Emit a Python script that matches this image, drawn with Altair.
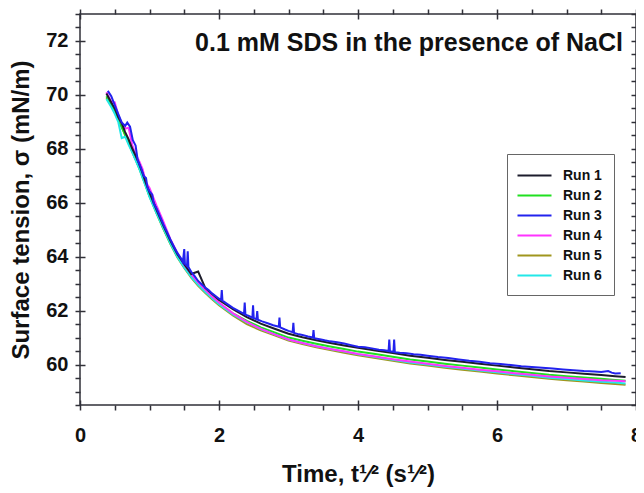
import altair as alt
import pandas as pd

# ---------------- data ----------------
run_names = ["Run 1", "Run 2", "Run 3", "Run 4", "Run 5", "Run 6"]
run_colors = ["#1c1c2c", "#20e020", "#2222ee", "#ff33ff", "#a0961e", "#22e8e8"]

# shared sqrt(time) grid for runs 1, 2, 4, 5, 6
t_grid = [0.38, 0.45, 0.50, 0.55, 0.60, 0.65, 0.70, 0.75, 0.80, 0.85,
          0.90, 0.95, 1.00, 1.10, 1.20, 1.30, 1.40, 1.50, 1.60, 1.70,
          1.80, 1.90, 2.00, 2.20, 2.40, 2.60, 2.80, 3.00, 3.20, 3.40,
          3.60, 3.80, 4.00, 4.25, 4.50, 4.75, 5.00, 5.25, 5.50, 5.75,
          6.00, 6.25, 6.50, 6.75, 7.00, 7.25, 7.50, 7.70, 7.85]

run1 = [70.05, 69.72, 69.50, 69.18, 68.95, 68.62, 68.35, 68.02, 67.75, 67.45,
        67.10, 66.72, 66.38, 65.75, 65.15, 64.60, 64.10, 63.72, 63.36, 63.45,
        62.85, 62.62, 62.40, 62.05, 61.76, 61.52, 61.33, 61.14, 61.01, 60.90,
        60.80, 60.71, 60.62, 60.52, 60.43, 60.33, 60.25, 60.17, 60.10, 60.03,
        59.96, 59.89, 59.83, 59.76, 59.71, 59.66, 59.61, 59.57, 59.54]

run2 = [69.95, 69.62, 69.38, 69.12, 68.80, 68.52, 68.22, 67.92, 67.62, 67.30,
        66.98, 66.62, 66.25, 65.65, 65.05, 64.50, 64.02, 63.62, 63.28, 62.98,
        62.72, 62.48, 62.26, 61.90, 61.62, 61.38, 61.19, 61.00, 60.88, 60.77,
        60.67, 60.58, 60.48, 60.39, 60.29, 60.19, 60.11, 60.03, 59.96, 59.89,
        59.82, 59.75, 59.69, 59.62, 59.57, 59.52, 59.47, 59.43, 59.40]

run4 = [70.10, 69.75, 69.72, 69.25, 68.95, 68.75, 68.78, 68.15, 67.80, 67.55,
        67.25, 66.75, 66.55, 65.90, 65.30, 64.65, 64.15, 63.70, 63.35, 63.05,
        62.78, 62.52, 62.30, 61.90, 61.58, 61.32, 61.12, 60.93, 60.80, 60.68,
        60.58, 60.49, 60.39, 60.30, 60.20, 60.11, 60.03, 59.95, 59.88, 59.81,
        59.75, 59.68, 59.62, 59.56, 59.51, 59.46, 59.42, 59.40, 59.38]

run5 = [69.90, 69.60, 69.35, 69.10, 68.82, 68.50, 68.22, 67.90, 67.60, 67.30,
        66.95, 66.60, 66.25, 65.62, 65.02, 64.48, 63.98, 63.58, 63.22, 62.92,
        62.66, 62.42, 62.20, 61.82, 61.50, 61.27, 61.08, 60.89, 60.76, 60.64,
        60.54, 60.44, 60.34, 60.24, 60.14, 60.04, 59.96, 59.88, 59.81, 59.74,
        59.67, 59.60, 59.54, 59.47, 59.42, 59.37, 59.32, 59.28, 59.25]

run6 = [69.85, 69.55, 69.30, 69.00, 68.40, 68.45, 68.15, 67.88, 67.58, 67.28,
        66.92, 66.58, 66.22, 65.62, 65.05, 64.50, 64.00, 63.60, 63.25, 62.96,
        62.70, 62.46, 62.24, 61.86, 61.56, 61.32, 61.12, 60.93, 60.80, 60.68,
        60.58, 60.48, 60.38, 60.28, 60.18, 60.08, 60.00, 59.92, 59.85, 59.78,
        59.71, 59.64, 59.58, 59.51, 59.46, 59.41, 59.36, 59.33, 59.30]

# run 3 has its own, denser grid (it carries the spikes)
run3_t = [0.40, 0.45, 0.50, 0.55, 0.60, 0.65, 0.68, 0.72, 0.76, 0.80,
          0.83, 0.88, 0.92, 0.95, 0.97, 1.00, 1.04, 1.06, 1.10, 1.15,
          1.20, 1.25, 1.30, 1.35, 1.40, 1.45, 1.48, 1.50, 1.51, 1.54,
          1.55, 1.56, 1.60, 1.65, 1.70, 1.75, 1.80, 1.85, 1.90, 1.95,
          2.00, 2.03, 2.04, 2.05, 2.10, 2.20, 2.30, 2.36, 2.37, 2.38,
          2.43, 2.48, 2.49, 2.50, 2.54, 2.55, 2.56, 2.62, 2.70, 2.78,
          2.86, 2.87, 2.88, 2.95, 3.00, 3.06, 3.07, 3.08, 3.15, 3.20,
          3.28, 3.35, 3.36, 3.37, 3.45, 3.52, 3.60, 3.70, 3.80, 3.90,
          4.00, 4.10, 4.20, 4.30, 4.38, 4.44, 4.45, 4.46, 4.51, 4.52,
          4.53, 4.60, 4.70, 4.80, 4.90, 5.00, 5.15, 5.30, 5.45, 5.60,
          5.75, 5.90, 6.05, 6.20, 6.35, 6.50, 6.65, 6.80, 6.95, 7.10,
          7.25, 7.40, 7.50, 7.60, 7.65, 7.70, 7.78]
run3 = [70.15, 69.95, 69.62, 69.30, 68.98, 68.85, 68.97, 68.82, 68.32, 68.12,
        67.58, 67.28, 66.98, 66.92, 66.58, 66.42, 66.30, 65.98, 65.80, 65.50,
        65.20, 64.92, 64.64, 64.38, 64.14, 63.95, 63.80, 64.28, 63.74, 63.66,
        64.20, 63.62, 63.44, 63.28, 63.10, 62.98, 62.86, 62.76, 62.64, 62.54,
        62.44, 62.40, 62.76, 62.37, 62.28, 62.10, 61.96, 61.88, 62.30, 61.85,
        61.80, 61.74, 62.20, 61.72, 61.68, 61.98, 61.66, 61.60, 61.53, 61.46,
        61.40, 61.74, 61.38, 61.30, 61.25, 61.20, 61.55, 61.17, 61.12, 61.10,
        61.04, 61.00, 61.28, 60.98, 60.94, 60.90, 60.86, 60.83, 60.78, 60.72,
        60.66, 60.64, 60.60, 60.55, 60.53, 60.50, 60.93, 60.49, 60.47, 60.93,
        60.46, 60.44, 60.42, 60.38, 60.36, 60.33, 60.28, 60.24, 60.19, 60.14,
        60.10, 60.05, 60.02, 59.98, 59.94, 59.91, 59.88, 59.85, 59.82, 59.79,
        59.76, 59.74, 59.72, 59.76, 59.70, 59.67, 59.68]

x_ticks = [0, 0.5, 1, 1.5, 2, 2.5, 3, 3.5, 4, 4.5, 5, 5.5, 6, 6.5, 7, 7.5, 8]
y_ticks = [58.5, 59, 59.5, 60, 60.5, 61, 61.5, 62, 62.5, 63, 63.5, 64, 64.5,
           65, 65.5, 66, 66.5, 67, 67.5, 68, 68.5, 69, 69.5, 70, 70.5, 71,
           71.5, 72, 72.5, 73]

title_text = "0.1 mM SDS in the presence of NaCl"
x_title = "Time, t¹⁄² (s¹⁄²)"
y_title = "Surface tension, σ (mN/m)"

# ---------------- table ----------------
series = {
    "Run 5": (t_grid, run5),
    "Run 2": (t_grid, run2),
    "Run 6": (t_grid, run6),
    "Run 4": (t_grid, run4),
    "Run 1": (t_grid, run1),
    "Run 3": (run3_t, run3),
}
rows = []
for name, (ts, vs) in series.items():
    assert len(ts) == len(vs), name
    for t, v in zip(ts, vs):
        rows.append({"run": name, "t": t, "sigma": v})
df = pd.DataFrame(rows)

FONT = "Liberation Sans"
AX = "#303038"

xscale = alt.Scale(domain=[0, 8], nice=False, zero=False)
yscale = alt.Scale(domain=[58.5, 73], nice=False, zero=False)

MAJOR = "datum.value % 2 === 0"
# ticks are 10px long and straddle the frame (axis offset -5);
# minor ticks show only one half through a dash pattern
dash_outer = alt.condition(MAJOR, alt.value([10, 0]), alt.value([0, 5, 5, 100]))
dash_inner = alt.condition(MAJOR, alt.value([10, 0]), alt.value([5, 100]))


def make_axis(orient, vals, labels, dash, title=None, **kw):
    args = dict(
        orient=orient, values=vals, domain=False, grid=False, offset=-5,
        ticks=True, tickColor=AX, tickWidth=1.5, tickSize=10, tickDash=dash,
        labelOverlap=False, labelFlush=False,
    )
    if labels:
        args.update(
            labelExpr="datum.value % 2 === 0 ? datum.label : ''",
            labelFont=FONT, labelFontSize=20, labelFontWeight="bold",
            labelColor="#111111", format="~g",
        )
    else:
        args.update(labels=False)
    if title is not None:
        args.update(title=title, titleFont=FONT, titleFontSize=24,
                    titleFontWeight="bold", titleColor="#111111")
    else:
        args.update(title=None)
    args.update(kw)
    return alt.Axis(**args)


x_bottom = make_axis("bottom", x_ticks, True, dash_outer, x_title,
                     labelPadding=15, titlePadding=17)
y_left = make_axis("left", y_ticks, True, dash_outer, y_title,
                   labelPadding=7, titlePadding=12)
x_top = make_axis("top", x_ticks, False, dash_outer)
y_right = make_axis("right", y_ticks, False, dash_inner)

legend = alt.Legend(
    orient="none", legendX=427, legendY=140, title=None,
    strokeColor="#666666", fillColor="white", padding=12,
    labelFont=FONT, labelFontSize=14, labelFontWeight="bold", labelColor="#111111",
    symbolType="M-2,0L2,0", symbolSize=289, symbolStrokeWidth=2,
    symbolOffset=6, labelOffset=19, rowPadding=3,
)

lines = alt.Chart(df).mark_line(strokeWidth=2).encode(
    x=alt.X("t:Q", scale=xscale, axis=x_bottom),
    y=alt.Y("sigma:Q", scale=yscale, axis=y_left),
    color=alt.Color("run:N", scale=alt.Scale(domain=run_names, range=run_colors),
                    legend=legend),
)

frame_axes = alt.Chart(df).mark_line(opacity=0).encode(
    x=alt.X("t:Q", scale=xscale, axis=x_top),
    y=alt.Y("sigma:Q", scale=yscale, axis=y_right),
    detail="run:N",
)

title_mark = alt.Chart(pd.DataFrame({"label": [title_text]})).mark_text(
    align="right", baseline="alphabetic", font=FONT, fontSize=25,
    fontWeight="bold", color="#111111",
).encode(x=alt.value(543), y=alt.value(37), text="label:N")

chart = alt.layer(lines, frame_axes, title_mark).resolve_axis(
    x="independent", y="independent"
).properties(
    width=556, height=391,
    padding={"left": 72, "top": 6, "right": 0, "bottom": 82},
    autosize=alt.AutoSizeParams(type="none"),
).configure_view(stroke=AX, strokeWidth=1.5)

chart.save("out.html", embed_options={"renderer": "svg", "actions": False})
